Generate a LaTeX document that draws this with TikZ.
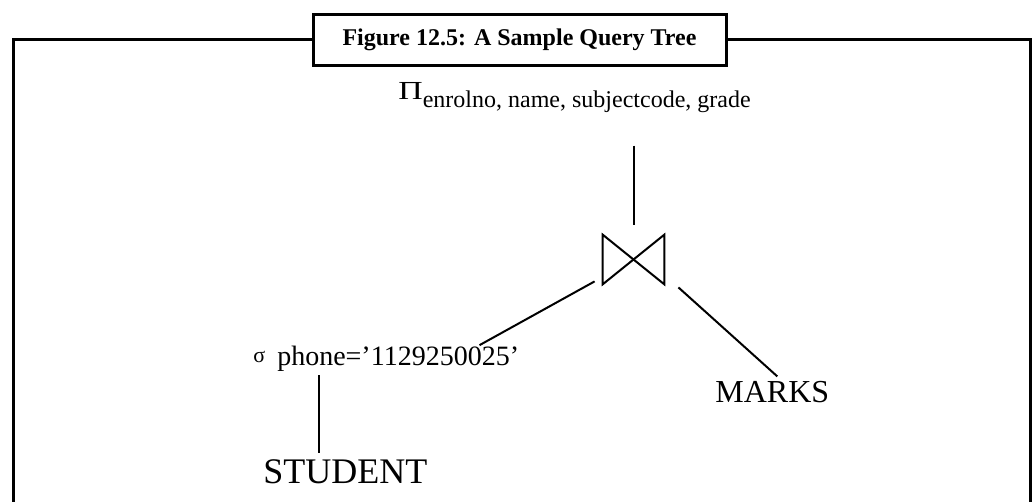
\documentclass[tikz,border=0pt]{standalone}
\usepackage{fontspec}
\setmainfont{Liberation Serif}
\usepackage{graphicx}
\usetikzlibrary{math}
\tikzset{
  frame/.style={line width=1.5pt},
  edge/.style={line width=1pt},
  titlebox/.style={draw, line width=1.5pt, minimum width=206.5pt, minimum height=25.5pt,
    inner sep=0pt, font=\bfseries\fontsize{12}{14}\selectfont},
  rel/.style={inner sep=0pt, anchor=base west},
}

\begin{document}
\begin{tikzpicture}[x=0.5pt,y=-0.5pt]

\tikzmath{
\W = 1032;
\H = 502;
%frame edges
\fl = 13;
\fr = 1030;
}
\useasboundingbox (0,0) rectangle (\W,\H);

%frame and title:
\node[titlebox] (title) at (519.5,40) {Figure 12.5: A Sample Query Tree};
\coordinate (fbl) at (\fl,\H);
\coordinate (fbr) at (\fr,\H);
\draw[frame] (fbl) |- (title.west);
\draw[frame] (fbr) |- (title.east);

%relations
\node[rel] (proj) at (398,108) {\raisebox{4pt}{\fontsize{13}{14}\selectfont\scalebox{1.3}[1]{Π}}\fontsize{12}{14}\selectfont enrolno, name, subjectcode, grade};
\node[rel] (sel) at (253,365) {\raisebox{1.5pt}{\fontsize{11}{12}\selectfont σ}\hspace{6pt}\fontsize{14}{16}\selectfont phone=’1129250025’};
\node[rel, font=\fontsize{18}{20}\selectfont] (student) at (263,483) {STUDENT};
\node[rel, font=\fontsize{16}{18}\selectfont] (marks) at (715,402) {MARKS};

%join
\node[minimum width=30.5pt, minimum height=24.5pt, inner sep=0pt] (join) at (633.5,259.5) {};
\draw[edge] (join.north west) -- (join.south east) -- (join.north east) -- (join.south west) -- cycle;

%tree edges
\draw[edge, shorten <=16pt, shorten >=5pt] (proj.south -| join.north) -- (join.north);
\draw[edge] ([shift={(-8,-3)}]join.south west) -- ([shift={(-40,0)}]sel.north east);
\draw[edge] ([shift={(14,3)}]join.south east) -- ([shift={(5,-4)}]marks.north);
\draw[edge] ([shift={(66,4)}]sel.south west) -- ([shift={(66,-6)}]sel.south west |- student.north);

\end{tikzpicture}
\end{document}
